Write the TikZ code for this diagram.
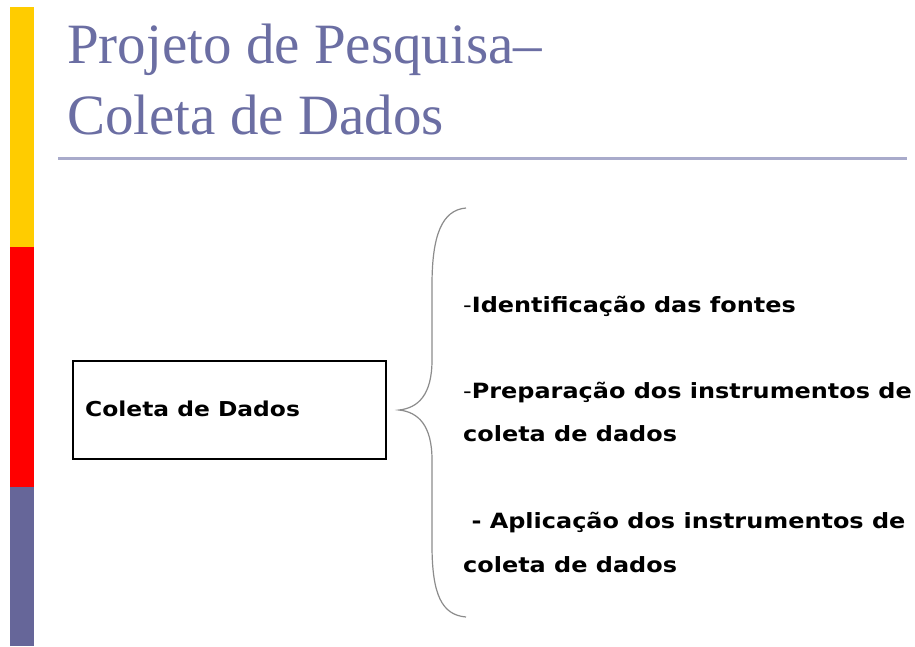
\documentclass[tikz,border=0pt]{standalone}
\usepackage{fontspec}
\setmainfont{Liberation Serif}
\newfontfamily\itemfont[FakeStretch=1.14]{DejaVu Sans}
\definecolor{titleblue}{HTML}{6B6EA3}
\definecolor{rulecol}{HTML}{A9ABCB}
\definecolor{baryellow}{HTML}{FFCC00}
\definecolor{barred}{HTML}{FF0000}
\definecolor{barpurple}{HTML}{666699}
\definecolor{bracecol}{HTML}{8C8C8C}
\tikzset{
  titletext/.style={anchor=base west, inner sep=0pt, text=titleblue, font=\fontsize{57}{57}\selectfont},
  itemtext/.style={anchor=base west, inner sep=0pt, font=\itemfont\bfseries\fontsize{21}{21}\selectfont},
  boxtext/.style={anchor=base west, inner sep=0pt, font=\itemfont\bfseries\fontsize{20.5}{20.5}\selectfont},
  boxnode/.style={draw=black, line width=1.5pt, minimum width=313pt, minimum height=98pt, inner sep=0pt},
}
\begin{document}
\begin{tikzpicture}[x=1pt,y=-1pt]
\useasboundingbox (0,0) rectangle (915,646);
\fill[white] (0,0) rectangle (915,646);
% side bar
\fill[baryellow] (10,7) rectangle (34,247);
\fill[barred] (10,247) rectangle (34,487);
\fill[barpurple] (10,487) rectangle (34,646);
% title
\node[titletext] (t1) at (67,63) {Projeto de Pesquisa–};
\node[titletext] (t2) at (67,134) {Coleta de Dados};
\draw[rulecol, line width=3pt] (58,158) -- (907,158);
% box
\node[boxnode] (box) at (229.5,410) {};
\node[boxtext] (boxlabel) at (85,416) {Coleta de Dados};
% brace
\coordinate (btop) at (466,208);
\coordinate (btip) at (399,410);
\coordinate (bbot) at (466,617);
\draw[bracecol, line width=1.2pt]
  (btop) .. controls (442,210) and (432,235) .. (432,285)
  -- (432,360) .. controls (432,395) and (418,408) .. (btip)
  .. controls (418,412) and (432,425) .. (432,460)
  -- (432,545) .. controls (432,595) and (442,615) .. (bbot);
% items
\node[itemtext] (i1) at (463,312) {{\mdseries -}Identificação das fontes};
\node[itemtext] (i2a) at (463,398) {{\mdseries -}Preparação dos instrumentos de};
\node[itemtext] (i2b) at (463,441) {coleta de dados};
\node[itemtext] (i3a) at (463,528) {\ - Aplicação dos instrumentos de};
\node[itemtext] (i3b) at (463,572) {coleta de dados};
\end{tikzpicture}
\end{document}
